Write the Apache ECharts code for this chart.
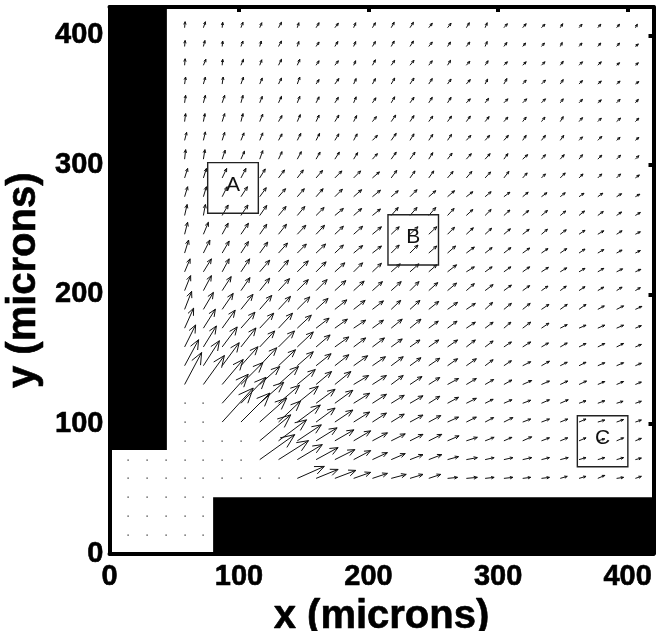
<!DOCTYPE html>
<html><head><meta charset="utf-8">
<style>html,body{margin:0;padding:0;background:#fff}#c{width:656px;height:631px}</style>
<script src="https://cdn.jsdelivr.net/npm/echarts@6/dist/echarts.min.js"></script>
</head><body><div id="c"></div>
<script>
const tickValues=[0,100,200,300,400];
const gridStep=14.5, quiverScale=0.772;
// velocity components, rows y index 28 down to 4, columns x index 4 to 28
const U=[
[.5,2,.5,2,2,3,1.5,3,3.5,2,3,3,3.5,3.5,3.5,3,2,3.5,3.5,3.5,2.5,3,3,3,2],
[.5,1.5,.5,2,1.5,3,1.5,3,3,2,3,3,3.5,3.5,3,3.5,2,3,3,3,2,3,3,3,3],
[.5,2.5,.5,2.5,2,3,2.5,3,3.5,2,3,3.5,4,3.5,3,3.5,3,3.5,3.5,3.5,3,3.5,3.5,3,3],
[1,2,1,2.5,2.5,3,2.5,3,4,2.5,3,3.5,4,3.5,3.5,4,2.5,3,3.5,4,3,3.5,3.5,3.5,3.5],
[1,2,2.5,2,2.5,3,2.5,3,3.5,2.5,3.5,3.5,4,3.5,3.5,4,3.5,4,4,4,3,3.5,3.5,3.5,3],
[1,1.5,2.5,2,3,3.5,3,3,4,3,4,4.5,4,4,4,4,4,4,3.5,3.5,3,3.5,3.5,4,3.5],
[2,2,2.5,3,3,3.5,3.5,3.5,4,3.5,5,5,4,4,4,4.5,4.5,4.5,3.5,4,3.5,3.5,4,3.5,3.5],
[1,1.5,3,3.5,3,3.5,4,4,4.5,4,5,5,5,4,4.5,5,5,4,5,4,4,3.5,4,4,3.5],
[3,3,4.5,5,5.5,6,6,6.5,7,7,7,5.5,5,5,5.5,5.5,5.5,5,4.5,4,5,4,4,4,4],
[3,3,5,6.5,6.5,7,7,7,7.5,8,8,7,7,7,7,6.5,6,6,5.5,5.5,5,5,5,5,4.5],
[2.5,2,6,7,7,7.5,7.5,8,8.5,8,8,7,7,7,6.5,6.5,6,6,6,6,5.5,5.5,5.5,5,5],
[3,5,6,7.5,7,8,8.5,8.5,8.5,9,9,8,8,8,7,7,6.5,6.5,6.5,6,6,6,6,5.5,5],
[4,6.5,7,7.5,8,9,9,9.5,8.5,9,9,8,8,8,8,8,7,7,7,6.5,6.5,6,6,5.5,5],
[5.5,8,7,8.7,10,10,11,10,10,9,9,9,9,8,9,8,7,7,7,7,6.5,6,6,6,5.5],
[6,8,9,9,10,11,11,11,11,10.5,10,10,9,9,9,8,8,7.5,7,6.5,6,6,6,5.5,5],
[7,10,11,12,12,12,12.5,12,12,11.5,11,9.5,10,10,10,9,7.5,7.5,7.5,7.5,7,7,6.5,7,6.5],
[9,12,13,14,14,14,14,13,12.5,12,11,11,11,9.5,9.5,9,8,7,8,7.5,7,7,7,7,6],
[11,13,15,15,15,16,16,14,14,12,12,11,10,10,10,9,8,7.5,8,7,7,7,7,7,6],
[14,16,17,17,17,17,16,15,14,14,13,12,11,11,10,10,8,7.5,8,8,7,7,7,7,6],
[17,21,21,22,20,20,18,15.5,16,15,14,12,12,11,11,10,8.5,8,9,8,7.5,7.5,7,7,6],
[0,0,26,25,24,21,21,19,18,16,14,13,13,11,11,10,8,8,8,8,8,7,7,6.5,6],
[0,0,31,29,27,22,23,19,18,16,14,13,13,12,11,10,8.5,9,8,8,7.5,7,7,7,6],
[0,0,0,0,31,28,24,21,19,17,15,14,13,13,11.5,11,9,8,9,8,7.5,7,7,7,6],
[0,0,0,0,35,30,25,22,20,17,15,14,13,13,11,11,9,9,9,8,8,7,7,7,6],
[0,0,0,0,0,0,27,22,21,17,15,15,13,12,10,11,9,9,8,8,7,7,7,7,6]
];
const V=[
[6,6,5.5,5.5,5,5.5,5,5,4.5,5,5,5.5,5.5,4.5,4.5,5,5,4,4,3.5,4,3.5,3.5,3.5,3.5],
[6,6,5.5,5.5,5.5,5.5,5,4.5,5,5,5,5.5,5.5,4.5,4.5,4.5,5,4,3.5,3.5,4,3.5,3.5,3.5,2.5],
[6.5,6,6,6,5.5,6,6,4.5,4.5,4.5,5.5,5,5,4.5,5,4,4.5,3.5,3.5,3.5,4,3.5,3.5,2.5,2.5],
[7,7,7,7,6,6,7,4.5,5.5,5.5,5.5,6,6,5.5,5,4.5,5,5.5,4,4,4.5,3.5,3,3,2.5],
[7.5,7.5,7.5,7.5,6.5,6.5,6.5,6,5.5,6,5,6,5.5,5.5,5.5,4,4.5,4,4,4,4,3.5,3,3.5,3.5],
[8,8,8,8,7.5,6,7,6.5,6.5,6,5,6.5,6,5.5,5.5,5.5,5,4.5,4.5,4.5,5,4,3.5,3.5,3.5],
[8,8.5,8,7.5,7.5,6.5,7,7,6.5,6.5,5,7,6.5,6,6,5,5,5,5,5,5,3.5,4,3,3],
[9.5,9.5,9,8,8.5,7.5,7.5,7,7,6.5,5.5,7,7,6.5,6,5.5,5.5,5.5,4.5,4.5,4.5,4.5,4,4,3.5],
[9.5,9.5,9.5,9.5,9,8,8,7.5,7,7,6,7.5,7,7,6.5,6.5,6,6.5,5,4,5,4,4,4,3],
[10,10,10,10,9,8,8,8,7.5,7,6.5,6,7,6,6,5,5,4.5,4.5,4,4,3.5,3.5,3,2.5],
[11,11,10.5,10.5,10,9,9,8,7,7,6.5,8,8,8,7,6,6,5.5,5,5,4.5,4.5,4,3.5,3],
[12,12,11,11,10,10,9,9,8,8,7.5,7.5,7.5,7.5,7,6.5,6,5.5,5,5,4.5,4,3.5,3.5,2.5],
[13,13,12,11.5,11,10,9,9,8,7.5,7,8,8,7,7,6,5.5,5.5,5,4.5,4.5,4,3.5,3,2.5],
[13,13,13,13,11.7,11.7,11,10,9,9,8.5,8,8,7,7,5,5,5,5,4.5,4,3.5,3.5,3,2.5],
[15,15,14,13,12.5,12,11,11,10,9.5,9,9,9,8,7.5,7,6,5.5,5,4.5,4.5,4,3.5,3.5,3],
[18,17,16,15,14,13,12.5,11,9.5,9,8.5,9,9,8,7,6,7,6,6,5,5,5,3.5,3.5,3],
[20,19,18,16,15,15,13,10,9,8,8,9,9,7,7,6,6,6,6,5,3.5,3,3,3,2.5],
[22,21,20,19,16,16,15,12,10,9,9,8,7,7,7,7,6,5,5,4,4,3.5,3.5,3.5,2.5],
[26,25,23,19,18,16,14,12,11,10,9,9,8,7.5,7,7,6,5,4,4.5,3.5,3.5,3,3,2.5],
[32,29,25,22,18,18,15,13,13,9,9,9,8,7,6,6,5,4.5,4,3.5,3.5,3.5,3,3,2.5],
[0,0,29,26,21,18,17,14,13,10,9,8,7.5,7,6,5,4,3.5,3,3.5,3.5,2.5,2.5,2,2],
[0,0,34,29,24,21,17,14,12,10,9,8,7,6.5,5,5,4.5,4.5,3,3,3,3,2,2.5,2],
[0,0,0,0,26,21,16,13,11,10,8,7,6.5,6.5,5,3.5,3.5,3.5,4,3,3,3,2,3,2.5],
[0,0,0,0,25,19,15,12,10,9,7,6,5,5,3,2,2,2,2,2,2,2,2,2,1.5],
[0,0,0,0,0,0,12,9,8,6,5,4,4,4,1,1,1,1,1,1,2,2,3,1,2]
];
// grid points in the lower-left channel where the flow is zero [i,j]
const stagnant=[[1,1],[2,1],[3,1],[4,1],[5,1],[1,2],[2,2],[3,2],[4,2],[5,2],[1,3],[2,3],[3,3],[4,3],[5,3],[1,4],[2,4],[3,4],[1,5],[2,5],[3,5]];
// blocked regions [x0,y0,x1,y1]
const walls=[[0,80,44.3,422],[80,0,420,43.5]];
// measurement windows
const boxNames=['A','B','C'];
const boxX0=[75.8,215,361.2], boxX1=[114.9,254,400.2];
const boxY0=[262.7,222.8,67], boxY1=[301.8,261.6,106.4];

const arrows=[];
U.forEach((row,r)=>row.forEach((u,c)=>arrows.push([(c+4)*gridStep,(28-r)*gridStep,u,V[r][c]])));
stagnant.forEach(p=>arrows.push([p[0]*gridStep,p[1]*gridStep,0,0]));

const font='"Liberation Sans",Arial,sans-serif';
const label={show:true,customValues:tickValues,fontFamily:font,fontWeight:'bold',fontSize:29,color:'#000',textBorderColor:'#000',textBorderWidth:.6};
const tick={show:true,inside:true,length:5,customValues:tickValues,lineStyle:{color:'#000',width:4}};
const line={show:true,onZero:false,lineStyle:{color:'#000',width:4}};
const ink='#111';

function arrowItem(params,api){
  const x=api.value(0),y=api.value(1),u=api.value(2),v=api.value(3);
  const a=api.coord([x,y]);
  if(u===0&&v===0){
    return {type:'rect',shape:{x:Math.round(a[0])-.5,y:Math.round(a[1])-.5,width:1.2,height:1.2},style:{fill:'#222'},silent:true};
  }
  const b=api.coord([x+u*quiverScale,y+v*quiverScale]);
  const dx=b[0]-a[0],dy=b[1]-a[1],L=Math.hypot(dx,dy),ang=Math.atan2(dy,dx);
  const h=Math.max(L*0.35,3),t=0.4;
  const p1=[b[0]-h*Math.cos(ang-t),b[1]-h*Math.sin(ang-t)];
  const p2=[b[0]-h*Math.cos(ang+t),b[1]-h*Math.sin(ang+t)];
  return {type:'group',silent:true,children:[
    {type:'line',shape:{x1:a[0],y1:a[1],x2:b[0],y2:b[1]},style:{stroke:ink,lineWidth:1,fill:null}},
    {type:'polyline',shape:{points:[p1,b,p2]},style:{stroke:ink,lineWidth:1,fill:null}}
  ]};
}
function wallItem(params,api){
  const a=api.coord([api.value(0),api.value(3)]),b=api.coord([api.value(2),api.value(1)]);
  return {type:'rect',shape:{x:a[0],y:a[1],width:b[0]-a[0],height:b[1]-a[1]},style:{fill:'#000'},silent:true};
}
function boxItem(params,api){
  const a=api.coord([api.value(0),api.value(3)]),b=api.coord([api.value(2),api.value(1)]);
  return {type:'group',silent:true,children:[
    {type:'rect',shape:{x:a[0],y:a[1],width:b[0]-a[0],height:b[1]-a[1]},style:{fill:null,stroke:'#222',lineWidth:1.4}},
    {type:'text',style:{x:(a[0]+b[0])/2,y:(a[1]+b[1])/2-3,text:boxNames[params.dataIndex],font:'21px '+font,fill:'#111',textAlign:'center',textVerticalAlign:'middle'}}
  ]};
}
const chart=echarts.init(document.getElementById('c'),null,{renderer:'canvas'});
chart.setOption({
  animation:false,
  backgroundColor:'#fff',
  grid:{left:109.5,top:7,width:544,height:546.5,containLabel:false,outerBoundsMode:'none'},
  xAxis:[
    {type:'value',min:0,max:420,position:'bottom',axisLine:line,axisTick:tick,splitLine:{show:false},axisLabel:{...label,margin:9},
     name:'x (microns)',nameLocation:'middle',nameGap:38,nameTextStyle:{fontFamily:font,fontWeight:'bold',fontSize:40,color:'#000',textBorderColor:'#000',textBorderWidth:.6}},
    {type:'value',min:0,max:420,position:'top',axisLine:line,axisTick:tick,splitLine:{show:false},axisLabel:{show:false}}
  ],
  yAxis:[
    {type:'value',min:0,max:422,position:'left',axisLine:line,axisTick:tick,splitLine:{show:false},axisLabel:{...label,margin:6},
     name:'y (microns)',nameLocation:'middle',nameGap:61,nameTextStyle:{fontFamily:font,fontWeight:'bold',fontSize:40,color:'#000',textBorderColor:'#000',textBorderWidth:.6}},
    {type:'value',min:0,max:422,position:'right',axisLine:line,axisTick:tick,splitLine:{show:false},axisLabel:{show:false}}
  ],
  series:[
    {type:'custom',coordinateSystem:'cartesian2d',renderItem:wallItem,data:walls,encode:{x:[0,2],y:[1,3]},clip:false,z:1},
    {type:'custom',coordinateSystem:'cartesian2d',renderItem:arrowItem,data:arrows,encode:{x:0,y:1},z:2},
    {type:'custom',coordinateSystem:'cartesian2d',renderItem:boxItem,data:boxNames.map((n,i)=>[boxX0[i],boxY0[i],boxX1[i],boxY1[i]]),encode:{x:[0,2],y:[1,3]},z:3}
  ]
});
</script></body></html>
